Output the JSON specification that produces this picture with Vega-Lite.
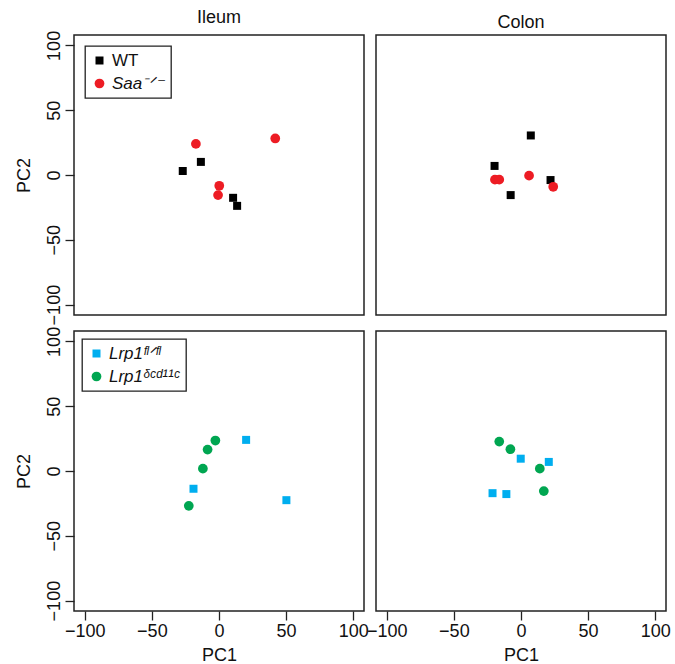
{
  "$schema": "https://vega.github.io/schema/vega-lite/v6.json",
  "background": "white",
  "padding": {"left": 14, "top": 8, "right": 5, "bottom": 2},
  "config": {
    "font": "Liberation Sans",
    "view": {"stroke": "#222", "strokeWidth": 1.5},
    "axis": {
      "domain": false, "grid": false, "ticks": true,
      "tickColor": "#222", "tickSize": 9, "tickWidth": 1.3,
      "labelFont": "Liberation Sans", "labelFontSize": 18, "labelColor": "#111", "labelPadding": 2,
      "titleFont": "Liberation Sans", "titleFontSize": 18, "titleFontWeight": "normal", "titleColor": "#111"
    },
    "title": {"font": "Liberation Sans", "fontSize": 18, "fontWeight": "normal", "color": "#111", "offset": 3},
    "legend": {
      "orient": "top-left", "offset": 11, "padding": 6, "strokeColor": "#222", "strokeWidth": 1.3,
      "labelFont": "Liberation Sans", "labelFontSize": 17, "labelColor": "#111", "labelOffset": 4,
      "rowPadding": 5, "symbolStrokeWidth": 0, "symbolOpacity": 1
    }
  },
  "datasets": {
    "pca": [
      {"tissue": "Ileum", "set": "Saa", "group": "WT", "PC1": -27, "PC2": 3.1},
      {"tissue": "Ileum", "set": "Saa", "group": "WT", "PC1": -13.5, "PC2": 10.1},
      {"tissue": "Ileum", "set": "Saa", "group": "WT", "PC1": 10.5, "PC2": -17.6},
      {"tissue": "Ileum", "set": "Saa", "group": "WT", "PC1": 13.5, "PC2": -23.8},
      {"tissue": "Ileum", "set": "Saa", "group": "Saa⁻ᐟ⁻", "PC1": -17.2, "PC2": 24.0},
      {"tissue": "Ileum", "set": "Saa", "group": "Saa⁻ᐟ⁻", "PC1": 41.9, "PC2": 28.2},
      {"tissue": "Ileum", "set": "Saa", "group": "Saa⁻ᐟ⁻", "PC1": 0.2, "PC2": -8.3},
      {"tissue": "Ileum", "set": "Saa", "group": "Saa⁻ᐟ⁻", "PC1": -0.7, "PC2": -15.5},
      {"tissue": "Colon", "set": "Saa", "group": "WT", "PC1": 7.3, "PC2": 30.5},
      {"tissue": "Colon", "set": "Saa", "group": "WT", "PC1": -19.7, "PC2": 7.0},
      {"tissue": "Colon", "set": "Saa", "group": "WT", "PC1": 22, "PC2": -3.9},
      {"tissue": "Colon", "set": "Saa", "group": "WT", "PC1": -7.7, "PC2": -15.5},
      {"tissue": "Colon", "set": "Saa", "group": "Saa⁻ᐟ⁻", "PC1": -19.4, "PC2": -3.6},
      {"tissue": "Colon", "set": "Saa", "group": "Saa⁻ᐟ⁻", "PC1": -16.2, "PC2": -3.6},
      {"tissue": "Colon", "set": "Saa", "group": "Saa⁻ᐟ⁻", "PC1": 6.0, "PC2": -0.5},
      {"tissue": "Colon", "set": "Saa", "group": "Saa⁻ᐟ⁻", "PC1": 24, "PC2": -9.1},
      {"tissue": "Ileum", "set": "Lrp1", "group": "Lrp1ᶠˡᐟᶠˡ", "PC1": 20.2, "PC2": 24},
      {"tissue": "Ileum", "set": "Lrp1", "group": "Lrp1ᶠˡᐟᶠˡ", "PC1": 50.2, "PC2": -22.5},
      {"tissue": "Ileum", "set": "Lrp1", "group": "Lrp1ᶠˡᐟᶠˡ", "PC1": -19, "PC2": -13.7},
      {"tissue": "Ileum", "set": "Lrp1", "group": "Lrp1ᵟᶜᵈ¹¹ᶜ", "PC1": -2.7, "PC2": 23.5},
      {"tissue": "Ileum", "set": "Lrp1", "group": "Lrp1ᵟᶜᵈ¹¹ᶜ", "PC1": -8.5, "PC2": 16.5},
      {"tissue": "Ileum", "set": "Lrp1", "group": "Lrp1ᵟᶜᵈ¹¹ᶜ", "PC1": -12, "PC2": 1.8},
      {"tissue": "Ileum", "set": "Lrp1", "group": "Lrp1ᵟᶜᵈ¹¹ᶜ", "PC1": -22.5, "PC2": -26.9},
      {"tissue": "Colon", "set": "Lrp1", "group": "Lrp1ᶠˡᐟᶠˡ", "PC1": -0.2, "PC2": 9.5},
      {"tissue": "Colon", "set": "Lrp1", "group": "Lrp1ᶠˡᐟᶠˡ", "PC1": 20.7, "PC2": 7.0},
      {"tissue": "Colon", "set": "Lrp1", "group": "Lrp1ᶠˡᐟᶠˡ", "PC1": -21.2, "PC2": -17.1},
      {"tissue": "Colon", "set": "Lrp1", "group": "Lrp1ᶠˡᐟᶠˡ", "PC1": -10.9, "PC2": -17.8},
      {"tissue": "Colon", "set": "Lrp1", "group": "Lrp1ᵟᶜᵈ¹¹ᶜ", "PC1": -16.2, "PC2": 22.7},
      {"tissue": "Colon", "set": "Lrp1", "group": "Lrp1ᵟᶜᵈ¹¹ᶜ", "PC1": -7.9, "PC2": 16.8},
      {"tissue": "Colon", "set": "Lrp1", "group": "Lrp1ᵟᶜᵈ¹¹ᶜ", "PC1": 14, "PC2": 1.8},
      {"tissue": "Colon", "set": "Lrp1", "group": "Lrp1ᵟᶜᵈ¹¹ᶜ", "PC1": 17, "PC2": -15.5}
    ]
  },
  "columns": 2,
  "bounds": "flush",
  "spacing": {"row": 16, "column": 12},
  "resolve": {
    "scale": {"x": "independent", "y": "independent", "color": "independent", "shape": "independent", "size": "independent"},
    "legend": {"color": "independent", "shape": "independent", "size": "independent"}
  },
  "concat": [
    {
      "width": 290, "height": 280,
      "title": "Ileum",
      "data": {"name": "pca"},
      "transform": [{"filter": "datum.tissue == 'Ileum' && datum.set == 'Saa'"}],
      "mark": {"type": "point", "filled": true, "opacity": 1},
      "encoding": {
        "x": {"field": "PC1", "type": "quantitative", "scale": {"domain": [-108, 108], "nice": false, "zero": false}, "axis": null},
        "y": {"field": "PC2", "type": "quantitative", "scale": {"domain": [-108, 108], "nice": false, "zero": false},
              "axis": {"title": "PC2", "values": [-100, -50, 0, 50, 100], "labelAngle": -90, "labelAlign": "center", "labelBaseline": "bottom", "titlePadding": 12}},
        "color": {"field": "group", "type": "nominal", "sort": null,
                  "scale": {"domain": ["WT", "Saa⁻ᐟ⁻"], "range": ["#000000", "#ED1C24"]},
                  "legend": {"title": null, "encode": {"labels": {"update": {"fontStyle": {"signal": "datum.label == 'WT' ? 'normal' : 'italic'"}}}}}},
        "shape": {"field": "group", "type": "nominal", "sort": null,
                  "scale": {"domain": ["WT", "Saa⁻ᐟ⁻"], "range": ["square", "circle"]}, "legend": {"title": null}},
        "size": {"field": "group", "type": "nominal", "sort": null,
                 "scale": {"domain": ["WT", "Saa⁻ᐟ⁻"], "range": [64, 95]}, "legend": {"title": null}}
      }
    },
    {
      "width": 290, "height": 280,
      "title": "Colon",
      "data": {"name": "pca"},
      "transform": [{"filter": "datum.tissue == 'Colon' && datum.set == 'Saa'"}],
      "mark": {"type": "point", "filled": true, "opacity": 1},
      "encoding": {
        "x": {"field": "PC1", "type": "quantitative", "scale": {"domain": [-108, 108], "nice": false, "zero": false}, "axis": null},
        "y": {"field": "PC2", "type": "quantitative", "scale": {"domain": [-108, 108], "nice": false, "zero": false}, "axis": null},
        "color": {"field": "group", "type": "nominal", "sort": null,
                  "scale": {"domain": ["WT", "Saa⁻ᐟ⁻"], "range": ["#000000", "#ED1C24"]}, "legend": null},
        "shape": {"field": "group", "type": "nominal", "sort": null,
                  "scale": {"domain": ["WT", "Saa⁻ᐟ⁻"], "range": ["square", "circle"]}, "legend": null},
        "size": {"field": "group", "type": "nominal", "sort": null,
                 "scale": {"domain": ["WT", "Saa⁻ᐟ⁻"], "range": [64, 95]}, "legend": null}
      }
    },
    {
      "width": 290, "height": 280,
      "data": {"name": "pca"},
      "transform": [{"filter": "datum.tissue == 'Ileum' && datum.set == 'Lrp1'"}],
      "mark": {"type": "point", "filled": true, "opacity": 1},
      "encoding": {
        "x": {"field": "PC1", "type": "quantitative", "scale": {"domain": [-108, 108], "nice": false, "zero": false},
              "axis": {"title": "PC1", "values": [-100, -50, 0, 50, 100], "titlePadding": 6}},
        "y": {"field": "PC2", "type": "quantitative", "scale": {"domain": [-108, 108], "nice": false, "zero": false},
              "axis": {"title": "PC2", "values": [-100, -50, 0, 50, 100], "labelAngle": -90, "labelAlign": "center", "labelBaseline": "bottom", "titlePadding": 12}},
        "color": {"field": "group", "type": "nominal", "sort": null,
                  "scale": {"domain": ["Lrp1ᶠˡᐟᶠˡ", "Lrp1ᵟᶜᵈ¹¹ᶜ"], "range": ["#00AEEF", "#00A651"]},
                  "legend": {"title": null, "labelFontStyle": "italic", "offset": 8}},
        "shape": {"field": "group", "type": "nominal", "sort": null,
                  "scale": {"domain": ["Lrp1ᶠˡᐟᶠˡ", "Lrp1ᵟᶜᵈ¹¹ᶜ"], "range": ["square", "circle"]}, "legend": {"title": null, "labelFontStyle": "italic", "offset": 8}},
        "size": {"field": "group", "type": "nominal", "sort": null,
                 "scale": {"domain": ["Lrp1ᶠˡᐟᶠˡ", "Lrp1ᵟᶜᵈ¹¹ᶜ"], "range": [64, 95]}, "legend": {"title": null, "labelFontStyle": "italic", "offset": 8}}
      }
    },
    {
      "width": 290, "height": 280,
      "data": {"name": "pca"},
      "transform": [{"filter": "datum.tissue == 'Colon' && datum.set == 'Lrp1'"}],
      "mark": {"type": "point", "filled": true, "opacity": 1},
      "encoding": {
        "x": {"field": "PC1", "type": "quantitative", "scale": {"domain": [-108, 108], "nice": false, "zero": false},
              "axis": {"title": "PC1", "values": [-100, -50, 0, 50, 100], "titlePadding": 6}},
        "y": {"field": "PC2", "type": "quantitative", "scale": {"domain": [-108, 108], "nice": false, "zero": false}, "axis": null},
        "color": {"field": "group", "type": "nominal", "sort": null,
                  "scale": {"domain": ["Lrp1ᶠˡᐟᶠˡ", "Lrp1ᵟᶜᵈ¹¹ᶜ"], "range": ["#00AEEF", "#00A651"]}, "legend": null},
        "shape": {"field": "group", "type": "nominal", "sort": null,
                  "scale": {"domain": ["Lrp1ᶠˡᐟᶠˡ", "Lrp1ᵟᶜᵈ¹¹ᶜ"], "range": ["square", "circle"]}, "legend": null},
        "size": {"field": "group", "type": "nominal", "sort": null,
                 "scale": {"domain": ["Lrp1ᶠˡᐟᶠˡ", "Lrp1ᵟᶜᵈ¹¹ᶜ"], "range": [64, 95]}, "legend": null}
      }
    }
  ]
}
